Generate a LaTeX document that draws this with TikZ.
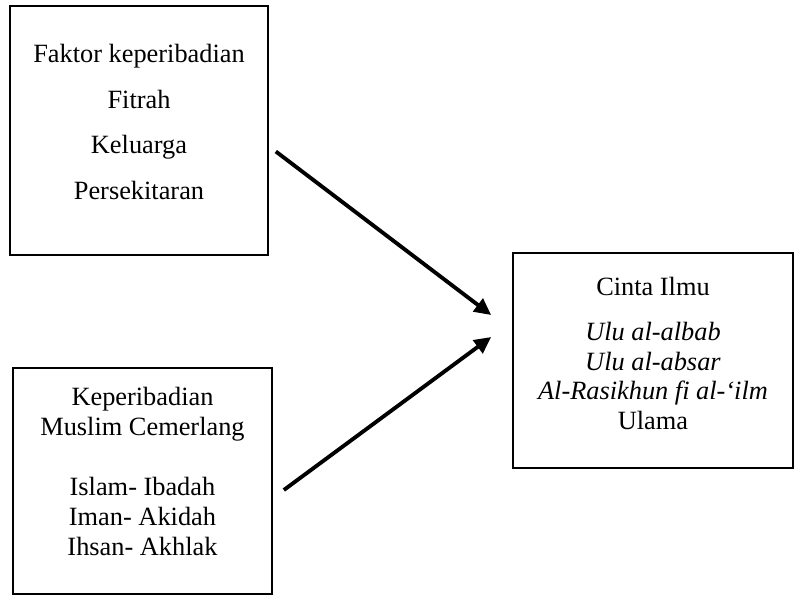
\documentclass[tikz,border=0pt]{standalone}
\usepackage{fontspec}
\setmainfont{Liberation Serif}
\usetikzlibrary{arrows.meta}

\begin{document}
\begin{tikzpicture}[x=0.02cm, y=-0.02cm,
		kotak/.style={draw, line width=1pt, align=center, inner sep=0pt, font=\fontsize{15}{17}\selectfont},
		panah/.style={line width=2.2pt, -{Triangle[length=9.5pt, width=9pt]}}]
				\useasboundingbox (0,0) rectangle (795,596);
				
				\node[kotak, minimum width=5.16cm, minimum height=4.98cm] (faktor) at (139,130.5)
					{Faktor keperibadian\\[9pt]Fitrah\\[9pt]Keluarga\\[9pt]Persekitaran\\[-7pt]\mbox{}};
				
				\node[kotak, minimum width=5.18cm, minimum height=4.52cm] (muslim) at (142.5,481)
					{Keperibadian\\Muslim Cemerlang\\[17pt]Islam- Ibadah\\Iman- Akidah\\Ihsan- Akhlak\\[-6pt]\mbox{}};
				
				\node[kotak, minimum width=5.6cm, minimum height=4.3cm] (cinta) at (653,360.5)
					{Cinta Ilmu\\[8.5pt]\textit{Ulu al-albab}\\\textit{Ulu al-absar}\\\textit{Al-Rasikhun fi al-‘ilm}\\Ulama\\[-9pt]\mbox{}};
				
				\coordinate (atas) at ([xshift=-0.42cm, yshift=0.91cm]cinta.west);
				\coordinate (bawah) at ([xshift=-0.42cm, yshift=0.47cm]cinta.west);
				
				\draw[panah] ([xshift=0.14cm, yshift=-0.42cm]faktor.east) -- (atas);
				\draw[panah] ([xshift=0.22cm, yshift=-0.18cm]muslim.east) -- (bawah);
			\end{tikzpicture}
\end{document}
